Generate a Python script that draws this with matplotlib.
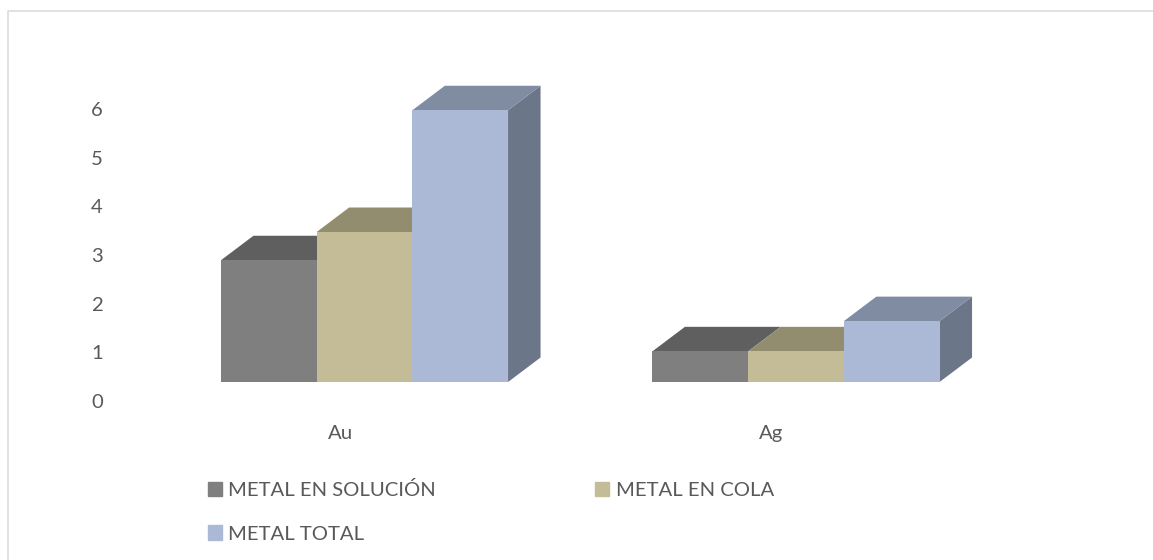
#!/usr/bin/env python3
"""3D look clustered columns: metal en solucion / cola / total"""

import matplotlib
matplotlib.use("Agg")
import matplotlib.pyplot as plt
from matplotlib.lines import Line2D
from matplotlib.patches import Patch, Polygon

categories = ["Au", "Ag"]
series_names = ["METAL EN SOLUCIÓN", "METAL EN COLA", "METAL TOTAL"]
solucion = [2.5, 0.63]
cola = [3.08, 0.63]
total = [5.58, 1.25]
y_ticks = [0, 1, 2, 3, 4, 5, 6]

front_colors = ["#7f7f7f", "#c4bc96", "#abb9d6"]
top_colors = ["#5f5f5f", "#938d70", "#808ca2"]
side_colors = ["#555555", "#837d64", "#6c7689"]

W, H = 1153, 560
plt.rcParams['font.family'] = ['Lato', 'DejaVu Sans']
TEXT = "#595959"
FS = 14.6

fig = plt.figure(figsize=(W / 100, H / 100), dpi=100)


def box(left, right, bottom, top):
    # pixel box, measured from top left, to figure fractions
    return [left / W, 1 - bottom / H, (right - left) / W, (bottom - top) / H]


# axes for the columns, one x unit = 431.5 px, one y unit = 48.7 px
PX_X, PX_Y = 431.5, 48.7
ax = fig.add_axes([0, 0, 1, 1])
ax.set_xlim((0 - 364.5) / PX_X, (W - 364.5) / PX_X)
ax.set_ylim((382 - H) / PX_Y, 382 / PX_Y)
ax.axis("off")

bar_w = 95.7 / PX_X
depth_x = 32.5 / PX_X
depth_y = 24.5 / PX_Y

for c in range(len(categories)):
    for s, values in enumerate([solucion, cola, total]):
        left = c + (s - 1.5) * bar_w
        right = left + bar_w
        v = values[c]
        if s == 2:
            ax.add_patch(Polygon([(right, 0), (right + depth_x, depth_y),
                                  (right + depth_x, v + depth_y), (right, v)],
                                 facecolor=side_colors[s], edgecolor="none"))
        ax.add_patch(Polygon([(left, v), (left + depth_x, v + depth_y),
                              (right + depth_x, v + depth_y), (right, v)],
                             facecolor=top_colors[s], edgecolor="none"))
        ax.bar(left, v, width=bar_w, align="edge", color=front_colors[s],
               edgecolor="none")

# axes for the tick labels, they sit lower and left of the columns
ax_t = fig.add_axes(box(112, 1000, 401, 109))
ax_t.patch.set_alpha(0)
ax_t.set_ylim(0, 6)
ax_t.set_xlim((112 - 340) / PX_X, (1000 - 340) / PX_X)
ax_t.set_yticks(y_ticks)
ax_t.set_xticks(range(len(categories)))
ax_t.set_xticklabels(categories)
ax_t.tick_params(axis="both", length=0, labelsize=FS, labelcolor=TEXT)
ax_t.tick_params(axis="y", pad=6.5)
ax_t.tick_params(axis="x", pad=17)
for sp in ax_t.spines.values():
    sp.set_visible(False)

# legend fills by column, so total goes second to land below solucion
order = [0, 2, 1]
handles = [Patch(color=front_colors[i], label=series_names[i]) for i in order]
fig.legend(handles=handles, ncols=2, frameon=False, fontsize=FS, labelcolor=TEXT,
           loc="upper left", bbox_to_anchor=(202 / W, 1 - 475 / H),
           handlelength=0.7, handleheight=0.7, handletextpad=0.3,
           columnspacing=7.85, labelspacing=1.3, borderpad=0.3, borderaxespad=0)

# chart frame, cut off by the image on the right and bottom
fig.add_artist(Line2D([7.5 / W, 7.5 / W, 1], [0, 1 - 10.5 / H, 1 - 10.5 / H],
                      color="#d9d9d9", lw=1.1))

fig.savefig("out.png", dpi=100)
